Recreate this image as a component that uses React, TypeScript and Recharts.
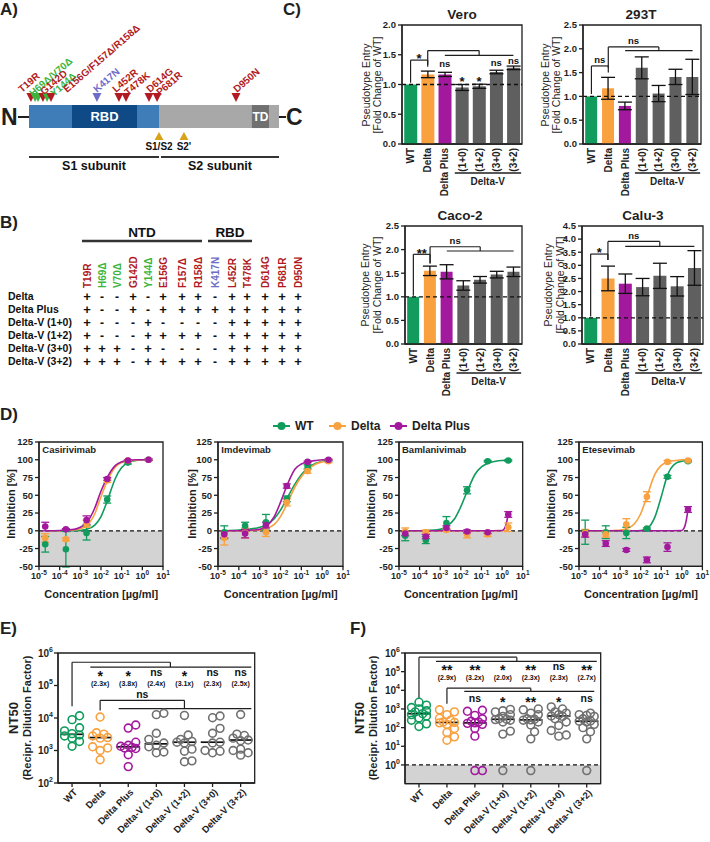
import React from "react";
import {
  Bar,
  Cell,
  ComposedChart,
  ErrorBar,
  Line,
  ReferenceArea,
  ReferenceDot,
  ReferenceLine,
  Scatter,
  XAxis,
  YAxis,
} from "recharts";

const FONT = "'Liberation Sans', Arial, Helvetica, sans-serif";
const AX = "#1f1f1f";
const GREEN = "#119B5D";
const ORANGE = "#F9A03F";
const PURPLE = "#A3199E";
const BARGRAY = "#5F5F5F";
const DOTGRAY = "#707070";
const MUT: Record<string, string> = { red: "#B11A22", green: "#3DB53D", purple: "#6D6DC8" };

// ---------- A) spike map (schematic positions, not to scale)
const domainFrom = [0, 219, 662, 1135];
const domainTo = [662, 550, 1273, 1222];
const domainName = ["", "RBD", "", "TD"];
const domainFill = ["#3F7DB8", "#0F4A86", "#A8A8A8", "#707070"];

const siteAt = [10, 31, 46, 71, 92, 112, 346, 458, 494, 611, 652, 1054];
const siteKind = ["red", "green", "green", "red", "green", "red", "purple", "red", "red", "red", "red", "red"];

const mutLabels = ["T19R", "H69Δ/V70Δ", "G142D", "Y144Δ", "E156G/F157Δ/R158Δ", "K417N", "L452R", "T478K", "D614G", "P681R", "D950N"];
const mutKind = ["red", "green", "red", "green", "red", "purple", "red", "red", "red", "red", "red"];
const mutLabelAt = [-36, 20, 76, 127, 193, 346, 443, 504, 616, 667, 1059];
const mutLabelLevel = [1.52, 1.35, 1.43, 1.35, 1.52, 1.52, 1.52, 1.39, 1.52, 1.39, 1.52];

const cleaveAt = [662, 789];
const cleaveName = ["S1/S2", "S2'"];

// ---------- B) mutation table
const tableCols = ["T19R", "H69Δ", "V70Δ", "G142D", "Y144Δ", "E156G", "F157Δ", "R158Δ", "K417N", "L452R", "T478K", "D614G", "P681R", "D950N"];
const tableColKind = ["red", "green", "green", "red", "green", "red", "red", "red", "purple", "red", "red", "red", "red", "red"];
const tableRows = ["Delta", "Delta Plus", "Delta-V (1+0)", "Delta-V (1+2)", "Delta-V (3+0)", "Delta-V (3+2)"];
const tableMarks = [
  "+--+-+++-+++++",
  "+--+-+++++++++",
  "+---+----+++++",
  "+---++++-+++++",
  "+++-+----+++++",
  "+++-++++-+++++",
];

// ---------- C) pseudotype entry
const cellCats = ["WT", "Delta", "Delta Plus", "(1+0)", "(1+2)", "(3+0)", "(3+2)"];
const cellColors = [GREEN, ORANGE, PURPLE, BARGRAY, BARGRAY, BARGRAY, BARGRAY];

const veroMean = [1.0, 1.17, 1.17, 0.95, 0.97, 1.21, 1.28];
const veroErr = [0, 0.055, 0.035, 0.05, 0.035, 0.03, 0.03];
const t293Mean = [1.0, 1.17, 0.8, 1.6, 1.06, 1.41, 1.41];
const t293Err = [0, 0.23, 0.08, 0.23, 0.17, 0.16, 0.37];
const cacoMean = [1.0, 1.55, 1.53, 1.24, 1.36, 1.47, 1.53];
const cacoErr = [0, 0.1, 0.15, 0.1, 0.07, 0.07, 0.1];
const caluMean = [1.0, 2.5, 2.3, 2.17, 2.6, 2.2, 2.9];
const caluErr = [0, 0.47, 0.37, 0.33, 0.48, 0.37, 0.66];

const ticks20 = [0, 0.5, 1, 1.5, 2];
const ticks25 = [0, 0.5, 1, 1.5, 2, 2.5];
const ticks45 = [0, 0.5, 1, 1.5, 2, 2.5, 3, 3.5, 4, 4.5];

// bracket levels: [WT low, top, Delta low, Delta start, top2, group]
const veroBr = [1.03, 1.41, 1.3, 1.33, 1.57, 1.49];
const t293Br = [1.05, 1.64, 1.5, 1.6, 2.04, 1.96];
const cacoBr = [1.02, 1.9, 1.7, 1.72, 2.06, 1.97];
const caluBr = [1.05, 3.43, 3.2, 3.2, 3.91, 3.72];

const veroMarkCat = ["Delta Plus", "(1+0)", "(1+2)", "(3+0)", "(3+2)"];
const veroMarkY = [1.33, 1.1, 1.1, 1.36, 1.38];
const veroMarkTxt = ["ns", "*", "*", "ns", "ns"];

// ---------- D) antibodies
const abColors = [GREEN, ORANGE, PURPLE];
const concPts = [2e-5, 2e-4, 2e-3, 2e-2, 2e-1, 2];
const fitX = [2e-5, 1e-4, 5e-4, 1e-3, 2e-3, 5e-3, 1e-2, 2e-2, 5e-2, 0.1, 0.2, 0.5, 1, 2];
const fitXLate = [2e-5, 1e-3, 0.1, 1, 1.3, 1.6, 2];
const concTicks = [1e-5, 1e-4, 1e-3, 1e-2, 1e-1, 1, 10];
const inhTicks = [-50, -25, 0, 25, 50, 75, 100, 125];

const casWT = [-19, -26, -3, 44, 96, 100];
const casWTErr = [11, 25, 10, 5, 2, 1];
const casDelta = [-10, -12, 10, 71, 99, 100];
const casDeltaErr = [6, 2, 5, 3, 1, 1];
const casPlus = [6, 2, 15, 73, 99, 100];
const casPlusErr = [6, 1, 6, 2, 1, 1];
const casWTFit = [0, 0, 0, 0.5, 2, 8, 20, 42, 74, 89, 96, 99, 100, 100];
const casDeltaFit = [0, 0, 1, 3, 7, 24, 48, 70, 90, 96, 98, 99.5, 100, 100];
const casPlusFit = [0, 0.5, 2, 5, 11, 32, 56, 75, 92, 97, 99, 100, 100, 100];

const imdWT = [-2, 7, 12, 45, 90, 99];
const imdWTErr = [9, 5, 11, 4, 3, 1];
const imdDelta = [-10, -3, -2, 40, 84, 98];
const imdDeltaErr = [10, 7, 6, 5, 3, 2];
const imdPlus = [-5, -4, 8, 63, 97, 100];
const imdPlusErr = [5, 6, 4, 3, 1, 1];
const imdWTFit = [0, 1, 3, 5, 8, 17, 29, 45, 66, 79, 88, 95, 98, 99];
const imdDeltaFit = [0, 0, 0.5, 1, 3, 9, 20, 37, 62, 76, 86, 94, 97, 98.5];
const imdPlusFit = [0, 0, 1, 2, 6, 20, 40, 63, 87, 94, 97, 99, 100, 100];

const bamWT = [-7, -13, 11, 57, 98, 99];
const bamWTErr = [7, 5, 9, 5, 1, 1];
const bamDelta = [-1, -2, 1, -5, -5, 5];
const bamDeltaErr = [5, 3, 2, 5, 3, 6];
const bamPlus = [-4, -8, 4, -1, -2, 23];
const bamPlusErr = [3, 3, 3, 2, 2, 4];
const bamWTFit = [0, 0, 1, 2, 6, 17, 34, 55, 80, 90, 95, 98, 99, 99.5];
const bamDeltaFit = [0, 0, 0, 0, 0, 0, 0];
const bamPlusFit = [0, 0, 0, 0.5, 3, 10, 24];

const eteWT = [-2, -2, -3, 3, 76, 98];
const eteWTErr = [17, 9, 8, 1, 2, 1];
const eteDelta = [-3, -5, 9, 48, 97, 99];
const eteDeltaErr = [5, 4, 8, 7, 2, 1];
const etePlus = [-5, -18, -27, -41, -23, 30];
const etePlusErr = [4, 4, 2, 4, 6, 4];
const eteWTFit = [0, 0, 0, 0, 0, 0, 0.5, 3, 20, 48, 78, 95, 98, 99];
const eteDeltaFit = [0, 0, 0.5, 1, 3, 10, 24, 48, 80, 92, 97, 99, 100, 100];
const etePlusFit = [0, 0, 0, 0.5, 4, 13, 30];

// ---------- E) / F) NT50
const ntNames = ["WT", "Delta", "Delta Plus", "Delta-V (1+0)", "Delta-V (1+2)", "Delta-V (3+0)", "Delta-V (3+2)"];
const ntColors = [GREEN, ORANGE, PURPLE, DOTGRAY, DOTGRAY, DOTGRAY, DOTGRAY];

const eWT = [11700, 8900, 5000, 4000, 3300, 3000, 2800, 2400, 1900, 1350];
const eDelta = [10700, 3500, 3200, 2800, 2500, 2400, 1300, 1200, 1000, 520];
const ePlus = [6100, 4900, 1800, 1450, 1350, 1250, 1200, 1150, 740, 320];
const e10 = [14000, 12700, 3400, 2200, 1700, 1450, 1300, 900, 850];
const e12 = [12000, 3000, 2200, 1900, 1800, 1700, 1100, 950, 480, 450];
const e30 = [11500, 10200, 4800, 3400, 1800, 1700, 1000, 950, 850];
const e32 = [12800, 3200, 2900, 2400, 2100, 2000, 1100, 1000, 850, 720];
const eMed = [3150, 2500, 1300, 1600, 1800, 1800, 2100];
const eStars = ["*", "*", "ns", "*", "ns", "ns"];
const eFolds = ["(2.3x)", "(3.8x)", "(2.4x)", "(3.1x)", "(2.3x)", "(2.5x)"];

const fWT = [2300, 1600, 1200, 1000, 800, 700, 560, 500, 420, 330, 250, 160, 115];
const fDelta = [900, 700, 500, 320, 250, 200, 190, 180, 150, 90, 55, 32, 21];
const fPlus = [850, 750, 450, 300, 220, 200, 180, 170, 150, 90, 35, 0.5, 0.5];
const f10 = [950, 800, 700, 500, 400, 300, 280, 270, 250, 200, 65, 45, 0.5];
const f12 = [1000, 900, 600, 500, 300, 280, 260, 250, 200, 140, 60, 25, 0.5];
const f30 = [1300, 1000, 700, 600, 500, 420, 400, 300, 200, 130, 70, 40, 35];
const f32 = [600, 500, 450, 400, 300, 230, 220, 200, 150, 100, 60, 25, 0.5];
const fMed = [560, 190, 180, 280, 260, 420, 220];
const fStars = ["**", "**", "*", "**", "ns", "**"];
const fFolds = ["(2.9x)", "(3.2x)", "(2.0x)", "(2.3x)", "(2.3x)", "(2.7x)"];
const fLowMarks = ["ns", "*", "**", "*", "ns"];

// ---------- helpers
function Txt({ x, y, size, bold, color, children }: any) {
  return (
    <div
      style={{
        position: "absolute",
        left: x,
        top: y,
        transform: "translate(-50%,-50%)",
        whiteSpace: "nowrap",
        fontSize: size,
        fontWeight: bold ? "bold" : "normal",
        color: color || AX,
        lineHeight: 1,
      }}
    >
      {children}
    </div>
  );
}

function VText({ x, y, size, bold, children }: any) {
  return (
    <div
      style={{
        position: "absolute",
        left: x,
        top: y,
        transform: "translate(-50%,-50%) rotate(-90deg)",
        whiteSpace: "nowrap",
        fontSize: size,
        fontWeight: bold ? "bold" : "normal",
        color: AX,
        lineHeight: 1,
      }}
    >
      {children}
    </div>
  );
}

function Letter({ x, y, t }: { x: number; y: number; t: string }) {
  return (
    <div style={{ position: "absolute", left: x, top: y, fontSize: 17, fontWeight: "bold", lineHeight: 1.1 }}>{t}</div>
  );
}

function annot(text: string, mode: "top" | "center", big = false) {
  const star = /^\*+$/.test(text);
  const fold = text.startsWith("(");
  const size = star ? (big ? 14 : 13) : fold ? 7 : big ? 10.5 : 9.5;
  return (p: any) => {
    const vb = p.viewBox || {};
    const x = (vb.x ?? 0) + (vb.width ?? 0) / 2;
    const y =
      mode === "top"
        ? (vb.y ?? 0) + (star ? size * 0.25 : -2.5)
        : (vb.y ?? 0) + (vb.height ?? 0) / 2 + size * (star ? 0.56 : fold ? 0.36 : 0.27);
    return (
      <text x={x} y={y} textAnchor="middle" fontSize={size} fontWeight="bold" fill="#111" fontFamily={FONT}>
        {text}
      </text>
    );
  };
}

function seg(key: string, x1: any, y1: number, x2: any, y2: number, label?: string, big = false) {
  return (
    <ReferenceLine
      key={key}
      segment={[
        { x: x1, y: y1 },
        { x: x2, y: y2 },
      ]}
      stroke={AX}
      strokeWidth={1.2}
      ifOverflow="visible"
      label={label ? annot(label, "top", big) : undefined}
    />
  );
}

function note(key: string, x: any, y: number, text: string, big = false) {
  return (
    <ReferenceDot key={key} x={x} y={y} r={0} fill="none" stroke="none" ifOverflow="visible" label={annot(text, "center", big)} />
  );
}

// beeswarm-style spread so points with close values sit side by side (offsets in px, capped)
function swarm(vals: number[], toPx: (v: number) => number, d: number, cap: number) {
  const order = vals.map((_, i) => i).sort((a, b) => vals[a] - vals[b]);
  const placed: { x: number; y: number }[] = [];
  const out: number[] = new Array(vals.length).fill(0);
  for (const i of order) {
    const y = toPx(vals[i]);
    let best = 0;
    let bestGap = -1;
    for (let k = 0; k < 40; k++) {
      const cand = k === 0 ? 0 : (k % 2 ? 1 : -1) * Math.ceil(k / 2) * d * 0.5;
      if (Math.abs(cand) > cap) break;
      const gap = placed.reduce((m, p) => Math.min(m, Math.hypot(p.x - cand, p.y - y)), Infinity);
      if (gap >= d) {
        best = cand;
        bestGap = gap;
        break;
      }
      if (gap > bestGap) {
        bestGap = gap;
        best = cand;
      }
    }
    placed.push({ x: best, y });
    out[i] = best;
  }
  return out;
}

// ---------- A
function SpikeMap() {
  const sites = siteAt.map((x, i) => ({ x, y: 1, k: siteKind[i] }));
  const labels = mutLabelAt.map((x, i) => ({ x, y: mutLabelLevel[i], t: mutLabels[i], k: mutKind[i] }));
  const cleave = cleaveAt.map((x, i) => ({ x, y: 0, t: cleaveName[i] }));
  return (
    <>
      <div style={{ position: "absolute", left: 1, top: 106, fontSize: 23, fontWeight: "bold", lineHeight: 1 }}>N</div>
      <div style={{ position: "absolute", left: 18, top: 116, width: 11, height: 2, background: AX }} />
      <div style={{ position: "absolute", left: 279, top: 116, width: 7, height: 2, background: AX }} />
      <div style={{ position: "absolute", left: 286, top: 106, fontSize: 23, fontWeight: "bold", lineHeight: 1 }}>C</div>
      <div style={{ position: "absolute", left: 0, top: 0 }}>
        <ComposedChart width={300} height={180} margin={{ top: 0, right: 15.69, bottom: 0, left: 19.18 }}>
          <XAxis type="number" dataKey="x" domain={[-50, 1300]} hide />
          <YAxis type="number" dataKey="y" domain={[-2.26, 5.57]} hide />
          {domainFrom.map((from, i) => (
            <ReferenceArea
              key={"d" + i}
              x1={from}
              x2={domainTo[i]}
              y1={0}
              y2={1}
              fill={domainFill[i]}
              fillOpacity={1}
              stroke="none"
              label={domainName[i] ? { value: domainName[i], position: "center", fill: "#fff", fontSize: i === 1 ? 13 : 12, fontWeight: "bold" } : undefined}
            />
          ))}
          <ReferenceLine
            segment={[
              { x: 0, y: -1.26 },
              { x: 662, y: -1.26 },
            ]}
            stroke="#333"
            strokeWidth={2}
            label={{ value: "S1 subunit", position: "bottom", offset: 4, fill: "#111", fontSize: 12.5, fontWeight: "bold" }}
          />
          <ReferenceLine
            segment={[
              { x: 672, y: -1.26 },
              { x: 1273, y: -1.26 },
            ]}
            stroke="#333"
            strokeWidth={2}
            label={{ value: "S2 subunit", position: "bottom", offset: 4, fill: "#111", fontSize: 12.5, fontWeight: "bold" }}
          />
          <Scatter
            data={sites}
            isAnimationActive={false}
            shape={(p: any) => (
              <path
                d={`M${p.cx - 4.5},${p.cy - 12} L${p.cx + 4.5},${p.cy - 12} L${p.cx},${p.cy - 3} Z`}
                fill={MUT[p.payload.k]}
              />
            )}
          />
          <Scatter
            data={labels}
            isAnimationActive={false}
            shape={(p: any) => (
              <text
                x={p.cx}
                y={p.cy}
                transform={`rotate(-41 ${p.cx} ${p.cy})`}
                fontSize={10}
                fontWeight="bold"
                fill={MUT[p.payload.k]}
                fontFamily={FONT}
              >
                {p.payload.t}
              </text>
            )}
          />
          <Scatter
            data={cleave}
            isAnimationActive={false}
            shape={(p: any) => (
              <g>
                <path d={`M${p.cx - 4.5},${p.cy + 12} L${p.cx + 4.5},${p.cy + 12} L${p.cx},${p.cy + 4} Z`} fill="#D9A21B" />
                <text x={p.cx} y={p.cy + 22} textAnchor="middle" fontSize={10} fontWeight="bold" fill="#111" fontFamily={FONT}>
                  {p.payload.t}
                </text>
              </g>
            )}
          />
        </ComposedChart>
      </div>
    </>
  );
}

// ---------- B
const colX = [87, 102, 117, 133, 148, 163, 182, 198, 215, 232, 247, 265, 282, 298];
const rowY = [296, 309, 322, 335, 348, 361];

function MutTable() {
  const T = 200;
  return (
    <svg style={{ position: "absolute", left: 0, top: T }} width={320} height={170}>
      <text x={142} y={237 - T} textAnchor="middle" fontSize={13.5} fontWeight="bold" fill="#111">NTD</text>
      <line x1={82} x2={202} y1={241 - T} y2={241 - T} stroke="#333" strokeWidth={2.4} />
      <text x={230} y={237 - T} textAnchor="middle" fontSize={13.5} fontWeight="bold" fill="#111">RBD</text>
      <line x1={208} x2={252} y1={241 - T} y2={241 - T} stroke="#333" strokeWidth={2.4} />
      {tableCols.map((c, i) => (
        <text
          key={c}
          x={colX[i] + 3.6}
          y={288 - T}
          transform={`rotate(-90 ${colX[i] + 3.6} ${288 - T})`}
          fontSize={10}
          fontWeight="bold"
          fill={MUT[tableColKind[i]]}
        >
          {c}
        </text>
      ))}
      {tableRows.map((r, j) => (
        <g key={r}>
          <text x={8} y={rowY[j] + 4 - T} fontSize={10.5} fontWeight="bold" fill="#111">{r}</text>
          {tableMarks[j].split("").map((m, i) => (
            <text key={i} x={colX[i]} y={rowY[j] + 4.5 - T} textAnchor="middle" fontSize={m === "+" ? 13 : 12} fontWeight="bold" fill="#111">
              {m}
            </text>
          ))}
        </g>
      ))}
    </svg>
  );
}

// ---------- C
type CellCfg = {
  title: string;
  px: number;
  py: number;
  pw: number;
  ph: number;
  max: number;
  ticks: number[];
  mean: number[];
  err: number[];
  br: number[];
  sig1: string;
  sig2: string;
  marks: { c: string; y: number; t: string }[];
  titleY: number;
  titleX: number;
  labelX: number[];
};

function cellTick(bw: number) {
  return (p: any) => {
    const { x, y, payload } = p;
    const v = String(payload.value);
    return (
      <g>
        <text
          x={x}
          y={y}
          dx={-4}
          dy={3.6}
          transform={`rotate(-90 ${x} ${y})`}
          textAnchor="end"
          fontSize={10}
          fontWeight="bold"
          fill={AX}
          fontFamily={FONT}
        >
          {v}
        </text>
        {v === "(1+0)" && (
          <g>
            <line x1={x - bw * 0.42} x2={x + 3.45 * bw} y1={y + 29} y2={y + 29} stroke={AX} strokeWidth={1.3} />
            <text x={x + 1.5 * bw} y={y + 41} textAnchor="middle" fontSize={10} fontWeight="bold" fill={AX} fontFamily={FONT}>
              Delta-V
            </text>
          </g>
        )}
      </g>
    );
  };
}

function CellPanel({ c }: { c: CellCfg }) {
  const YW = 26,
    MT = 6,
    XH = 52,
    MR = 5;
  const data = cellCats.map((name, i) => ({ name, v: c.mean[i], e: c.err[i] ? c.err[i] : undefined }));
  const bw = c.pw / cellCats.length;
  const [low1, top1, low2, start2, top2, group] = c.br;
  return (
    <>
      <Txt x={c.titleX} y={c.titleY} size={13.5} bold>
        {c.title}
      </Txt>
      <VText x={c.labelX[0]} y={c.py + c.ph / 2} size={10.5}>
        Pseudotype Entry
      </VText>
      <VText x={c.labelX[1]} y={c.py + c.ph / 2} size={10.5}>
        [Fold Change of WT]
      </VText>
      <div style={{ position: "absolute", left: c.px - YW, top: c.py - MT }}>
        <ComposedChart
          width={YW + c.pw + MR}
          height={MT + c.ph + XH}
          data={data}
          margin={{ top: MT, right: MR, bottom: 0, left: 0 }}
          barCategoryGap="13%"
        >
          <XAxis
            dataKey="name"
            type="category"
            interval={0}
            height={XH}
            tickLine={false}
            tickSize={0}
            tickMargin={0}
            axisLine={{ stroke: AX, strokeWidth: 1.3 }}
            tick={cellTick(bw)}
          />
          <YAxis
            type="number"
            domain={[0, c.max]}
            allowDataOverflow
            ticks={c.ticks}
            interval={0}
            width={YW}
            tickSize={4}
            tickMargin={2}
            tickFormatter={(v: number) => Number(v).toFixed(1)}
            tick={{ fontSize: 9.5, fontWeight: "bold", fill: AX }}
            axisLine={{ stroke: AX, strokeWidth: 1.3 }}
            tickLine={{ stroke: AX, strokeWidth: 1.3 }}
          />
          <ReferenceArea y1={0} y2={c.max} fill="none" fillOpacity={0} stroke={AX} strokeWidth={1.3} ifOverflow="visible" />
          <Bar dataKey="v" isAnimationActive={false}>
            {data.map((d, i) => (
              <Cell key={d.name} fill={cellColors[i]} />
            ))}
            <ErrorBar dataKey="e" direction="y" width={7} stroke="#111" strokeWidth={1.3} />
          </Bar>
          <ReferenceLine y={1} stroke="#111" strokeWidth={1.3} strokeDasharray="4 3" />
          {seg("a1", "WT", low1, "WT", top1)}
          {seg("a2", "WT", top1, "Delta", top1, c.sig1)}
          {seg("a3", "Delta", top1, "Delta", low2)}
          {seg("b1", "Delta", start2, "Delta", top2)}
          {seg("b2", "Delta", top2, "(1+2)", top2, c.sig2 || undefined)}
          {seg("b3", "(1+2)", top2, "(1+2)", group)}
          {seg("b4", "Delta Plus", group, "(3+2)", group)}
          {c.marks.map((m, i) => note("m" + i, m.c, m.y, m.t))}
        </ComposedChart>
      </div>
    </>
  );
}

const cellPanels: CellCfg[] = [
  {
    title: "Vero",
    px: 402,
    py: 25,
    pw: 120,
    ph: 119,
    max: 2,
    ticks: ticks20,
    mean: veroMean,
    err: veroErr,
    br: veroBr,
    sig1: "*",
    sig2: "",
    marks: veroMarkCat.map((c, i) => ({ c, y: veroMarkY[i], t: veroMarkTxt[i] })),
    titleX: 462,
    titleY: 15,
    labelX: [366, 377],
  },
  {
    title: "293T",
    px: 583,
    py: 25,
    pw: 118,
    ph: 119,
    max: 2.5,
    ticks: ticks25,
    mean: t293Mean,
    err: t293Err,
    br: t293Br,
    sig1: "ns",
    sig2: "ns",
    marks: [],
    titleX: 641,
    titleY: 15,
    labelX: [545, 556],
  },
  {
    title: "Caco-2",
    px: 405,
    py: 226,
    pw: 117,
    ph: 118,
    max: 2.5,
    ticks: ticks25,
    mean: cacoMean,
    err: cacoErr,
    br: cacoBr,
    sig1: "**",
    sig2: "ns",
    marks: [],
    titleX: 460,
    titleY: 216,
    labelX: [365, 376.5],
  },
  {
    title: "Calu-3",
    px: 582,
    py: 226,
    pw: 121,
    ph: 118,
    max: 4.5,
    ticks: ticks45,
    mean: caluMean,
    err: caluErr,
    br: caluBr,
    sig1: "*",
    sig2: "ns",
    marks: [],
    titleX: 643,
    titleY: 216,
    labelX: [548, 559.5],
  },
];

// ---------- D
type AbCfg = {
  name: string;
  px: number;
  pw: number;
  labelX: number;
  pts: number[][];
  errs: number[][];
  fits: number[][];
  fitXs: number[][];
};

const logXTick = (p: any) => {
  const e = Math.round(Math.log10(Number(p.payload.value)));
  return (
    <text x={p.x} y={p.y + 8} textAnchor="middle" fontSize={9} fontWeight="bold" fill={AX} fontFamily={FONT}>
      <tspan>10</tspan>
      <tspan dy={-4} fontSize={6.5}>
        {e}
      </tspan>
    </text>
  );
};

function AbPanel({ a }: { a: AbCfg }) {
  const YW = 28,
    MT = 6,
    XH = 20,
    MR = 12;
  const py = 441.7,
    ph = 124.3;
  return (
    <>
      <div style={{ position: "absolute", left: a.px + 3, top: py + 3, fontSize: 9.5, fontWeight: "bold", lineHeight: 1 }}>{a.name}</div>
      <VText x={a.labelX} y={py + ph / 2} size={11} bold>
        Inhibition [%]
      </VText>
      <Txt x={a.px + a.pw / 2} y={594} size={11} bold>
        Concentration [µg/ml]
      </Txt>
      <div style={{ position: "absolute", left: a.px - YW, top: py - MT }}>
        <ComposedChart width={YW + a.pw + MR} height={MT + ph + XH} margin={{ top: MT, right: MR, bottom: 0, left: 0 }}>
          <XAxis
            type="number"
            dataKey="x"
            scale="log"
            domain={[1e-5, 10]}
            allowDataOverflow
            ticks={concTicks}
            interval={0}
            height={XH}
            tickSize={4}
            tickMargin={1}
            tick={logXTick}
            axisLine={{ stroke: AX, strokeWidth: 1.3 }}
            tickLine={{ stroke: AX, strokeWidth: 1.3 }}
          />
          <YAxis
            type="number"
            dataKey="y"
            domain={[-50, 125]}
            allowDataOverflow
            ticks={inhTicks}
            interval={0}
            width={YW}
            tickSize={4}
            tickMargin={2}
            tick={{ fontSize: 9.5, fontWeight: "bold", fill: AX }}
            axisLine={{ stroke: AX, strokeWidth: 1.3 }}
            tickLine={{ stroke: AX, strokeWidth: 1.3 }}
          />
          <ReferenceArea y1={-50} y2={0} fill="#D3D3D3" fillOpacity={1} stroke="none" />
          <ReferenceArea y1={-50} y2={125} fill="none" fillOpacity={0} stroke={AX} strokeWidth={1.3} />
          <ReferenceLine y={0} stroke="#111" strokeWidth={1.3} strokeDasharray="4 3" />
          {a.fits.map((f, i) => (
            <Line
              key={"f" + i}
              data={a.fitXs[i].map((x, j) => ({ x, y: f[j] }))}
              dataKey="y"
              type="monotone"
              stroke={abColors[i]}
              strokeWidth={1.6}
              dot={false}
              isAnimationActive={false}
            />
          ))}
          {a.pts.map((pts, i) => (
            <Scatter
              key={"p" + i}
              data={concPts.map((x, j) => ({ x, y: pts[j], e: a.errs[i][j] }))}
              dataKey="y"
              fill={abColors[i]}
              isAnimationActive={false}
              shape={(p: any) => <circle cx={p.cx} cy={p.cy} r={3.3} fill={abColors[i]} />}
            >
              <ErrorBar dataKey="e" direction="y" width={4} stroke={abColors[i]} strokeWidth={1.3} />
            </Scatter>
          ))}
        </ComposedChart>
      </div>
    </>
  );
}

const abPanels: AbCfg[] = [
  {
    name: "Casirivimab",
    px: 39.3,
    pw: 124,
    labelX: 11,
    pts: [casWT, casDelta, casPlus],
    errs: [casWTErr, casDeltaErr, casPlusErr],
    fits: [casWTFit, casDeltaFit, casPlusFit],
    fitXs: [fitX, fitX, fitX],
  },
  {
    name: "Imdevimab",
    px: 218.3,
    pw: 125,
    labelX: 191.5,
    pts: [imdWT, imdDelta, imdPlus],
    errs: [imdWTErr, imdDeltaErr, imdPlusErr],
    fits: [imdWTFit, imdDeltaFit, imdPlusFit],
    fitXs: [fitX, fitX, fitX],
  },
  {
    name: "Bamlanivimab",
    px: 399,
    pw: 123.7,
    labelX: 371,
    pts: [bamWT, bamDelta, bamPlus],
    errs: [bamWTErr, bamDeltaErr, bamPlusErr],
    fits: [bamWTFit, bamDeltaFit, bamPlusFit],
    fitXs: [fitX, fitXLate, fitXLate],
  },
  {
    name: "Etesevimab",
    px: 579.3,
    pw: 123.4,
    labelX: 551,
    pts: [eteWT, eteDelta, etePlus],
    errs: [eteWTErr, eteDeltaErr, etePlusErr],
    fits: [eteWTFit, eteDeltaFit, etePlusFit],
    fitXs: [fitX, fitX, fitXLate],
  },
];

function LegendD() {
  const names = ["WT", "Delta", "Delta Plus"];
  const xs = [273, 329, 390];
  return (
    <svg style={{ position: "absolute", left: 0, top: 416 }} width={710} height={20}>
      {names.map((t, i) => (
        <g key={t}>
          <line x1={xs[i]} x2={xs[i] + 17} y1={10} y2={10} stroke={abColors[i]} strokeWidth={2} />
          <circle cx={xs[i] + 8.5} cy={10} r={4} fill={abColors[i]} />
          <text x={xs[i] + 22} y={14.3} fontSize={12} fontWeight="bold" fill={AX} fontFamily={FONT}>
            {t}
          </text>
        </g>
      ))}
    </svg>
  );
}

// ---------- E / F
type NtCfg = {
  px: number;
  py: number;
  pw: number;
  ph: number;
  yMin: number;
  yMax: number;
  yTicks: number[];
  vals: number[][];
  med: number[];
  shade: boolean;
  br: number[]; // [WT low, top, drop, Delta low, top2, drop2]
  starY: number;
  foldY: number;
  stars: string[];
  folds: string[];
  sig2: string;
  low: string[];
  lowY: number;
  g1: number[];
  g2: number[];
  labelX: number[];
};

const powTick = (p: any) => {
  const e = Math.round(Math.log10(Number(p.payload.value)));
  return (
    <text x={p.x} y={p.y + 4} textAnchor="end" fontSize={10} fontWeight="bold" fill={AX} fontFamily={FONT}>
      <tspan>10</tspan>
      <tspan dy={-5} fontSize={7}>
        {e}
      </tspan>
    </text>
  );
};

const nameTick = (p: any) => {
  const ax = p.x + 3;
  const ay = p.y + 1;
  return (
    <text
      x={ax}
      y={ay}
      dy={4}
      transform={`rotate(-45 ${ax} ${ay})`}
      textAnchor="end"
      fontSize={9.5}
      fontWeight="bold"
      fill={AX}
      fontFamily={FONT}
    >
      {ntNames[Number(p.payload.value)]}
    </text>
  );
};

function NtPanel({ n }: { n: NtCfg }) {
  const YW = 28,
    MT = 6,
    XH = 58,
    MR = 8;
  const band = n.pw / 7;
  const decPx = n.ph / (Math.log10(n.yMax) - Math.log10(n.yMin));
  const series = n.vals.map((vs, i) => {
    const off = swarm(vs, (v) => Math.log10(v) * decPx, 7.5, 11);
    return vs.map((v, j) => ({ x: i + off[j] / band, y: v }));
  });
  const [wtLow, top, drop, dLow, top2, drop2] = n.br;
  return (
    <>
      <VText x={n.labelX[0]} y={n.py + n.ph / 2} size={13} bold>
        NT50
      </VText>
      <VText x={n.labelX[1]} y={n.py + n.ph / 2} size={11} bold>
        (Recipr. Dilution Factor)
      </VText>
      <div style={{ position: "absolute", left: n.px - YW, top: n.py - MT }}>
        <ComposedChart width={YW + n.pw + MR} height={MT + n.ph + XH} margin={{ top: MT, right: MR, bottom: 0, left: 0 }}>
          <XAxis
            type="number"
            dataKey="x"
            domain={[-0.5, 6.5]}
            allowDataOverflow
            ticks={[0, 1, 2, 3, 4, 5, 6]}
            interval={0}
            height={XH}
            tickSize={4}
            tickMargin={2}
            tick={nameTick}
            axisLine={{ stroke: AX, strokeWidth: 1.3 }}
            tickLine={{ stroke: AX, strokeWidth: 1.3 }}
          />
          <YAxis
            type="number"
            dataKey="y"
            scale="log"
            domain={[n.yMin, n.yMax]}
            allowDataOverflow
            ticks={n.yTicks}
            interval={0}
            width={YW}
            tickSize={4}
            tickMargin={1}
            tick={powTick}
            axisLine={{ stroke: AX, strokeWidth: 1.3 }}
            tickLine={{ stroke: AX, strokeWidth: 1.3 }}
          />
          {n.shade && <ReferenceArea y1={n.yMin} y2={1} fill="#D3D3D3" fillOpacity={1} stroke="none" />}
          {n.shade && <ReferenceLine y={1} stroke="#111" strokeWidth={1.3} strokeDasharray="4 3" />}
          <ReferenceArea y1={n.yMin} y2={n.yMax} fill="none" fillOpacity={0} stroke={AX} strokeWidth={1.3} />
          {series.map((s, i) => (
            <Scatter
              key={"s" + i}
              data={s}
              isAnimationActive={false}
              shape={(p: any) => <circle cx={p.cx} cy={p.cy} r={3.9} fill="none" stroke={ntColors[i]} strokeWidth={1.6} />}
            />
          ))}
          {n.med.map((m, i) => (
            <ReferenceLine
              key={"md" + i}
              segment={[
                { x: i - 0.42, y: m },
                { x: i + 0.42, y: m },
              ]}
              stroke="#111"
              strokeWidth={1.7}
            />
          ))}
          {seg("t1", 0, wtLow, 0, top)}
          {seg("t2", 0, top, 3.5, top)}
          {seg("t3", 3.5, top, 3.5, drop)}
          {seg("t4", n.g1[0], drop, n.g1[1], drop)}
          {seg("u1", 1, dLow, 1, top2)}
          {seg("u2", 1, top2, 4, top2, n.sig2 || undefined, true)}
          {seg("u3", 4, top2, 4, drop2)}
          {seg("u4", n.g2[0], drop2, n.g2[1], drop2)}
          {n.stars.map((t, i) => note("st" + i, i + 1, n.starY, t, true))}
          {n.folds.map((t, i) => note("fo" + i, i + 1, n.foldY, t, true))}
          {n.low.map((t, i) => note("lo" + i, i + 2, n.lowY, t, true))}
        </ComposedChart>
      </div>
    </>
  );
}

const eCfg: NtCfg = {
  px: 58.3,
  py: 653.3,
  pw: 196.7,
  ph: 130,
  yMin: 100,
  yMax: 1e6,
  yTicks: [1e2, 1e3, 1e4, 1e5, 1e6],
  vals: [eWT, eDelta, ePlus, e10, e12, e30, e32],
  med: eMed,
  shade: false,
  br: [23000, 520000, 370000, 17000, 35000, 19500],
  starY: 245000,
  foldY: 115000,
  stars: eStars,
  folds: eFolds,
  sig2: "ns",
  low: [],
  lowY: 1,
  g1: [0.65, 6.38],
  g2: [1.66, 6.38],
  labelX: [13, 27],
};

const fCfg: NtCfg = {
  px: 405,
  py: 652.7,
  pw: 195.7,
  ph: 130.6,
  yMin: 0.1,
  yMax: 1e6,
  yTicks: [1, 10, 100, 1e3, 1e4, 1e5, 1e6],
  vals: [fWT, fDelta, fPlus, f10, f12, f30, f32],
  med: fMed,
  shade: true,
  br: [3500, 600000, 355000, 1900, 13000, 8700],
  starY: 170000,
  foldY: 50000,
  stars: fStars,
  folds: fFolds,
  sig2: "",
  low: fLowMarks,
  lowY: 3500,
  g1: [0.61, 6.36],
  g2: [1.62, 6.27],
  labelX: [359, 373],
};

export default function App() {
  return (
    <div
      style={{
        position: "absolute",
        left: 0,
        top: 0,
        width: 710,
        height: 842,
        overflow: "hidden",
        background: "#fff",
        fontFamily: FONT,
        color: AX,
      }}
    >
      <Letter x={0} y={1} t="A)" />
      <Letter x={0} y={214} t="B)" />
      <Letter x={283} y={1} t="C)" />
      <Letter x={0} y={406} t="D)" />
      <Letter x={0} y={620} t="E)" />
      <Letter x={350} y={620} t="F)" />
      <SpikeMap />
      <MutTable />
      {cellPanels.map((c) => (
        <CellPanel key={c.title} c={c} />
      ))}
      <LegendD />
      {abPanels.map((a) => (
        <AbPanel key={a.name} a={a} />
      ))}
      <NtPanel n={eCfg} />
      <NtPanel n={fCfg} />
    </div>
  );
}
